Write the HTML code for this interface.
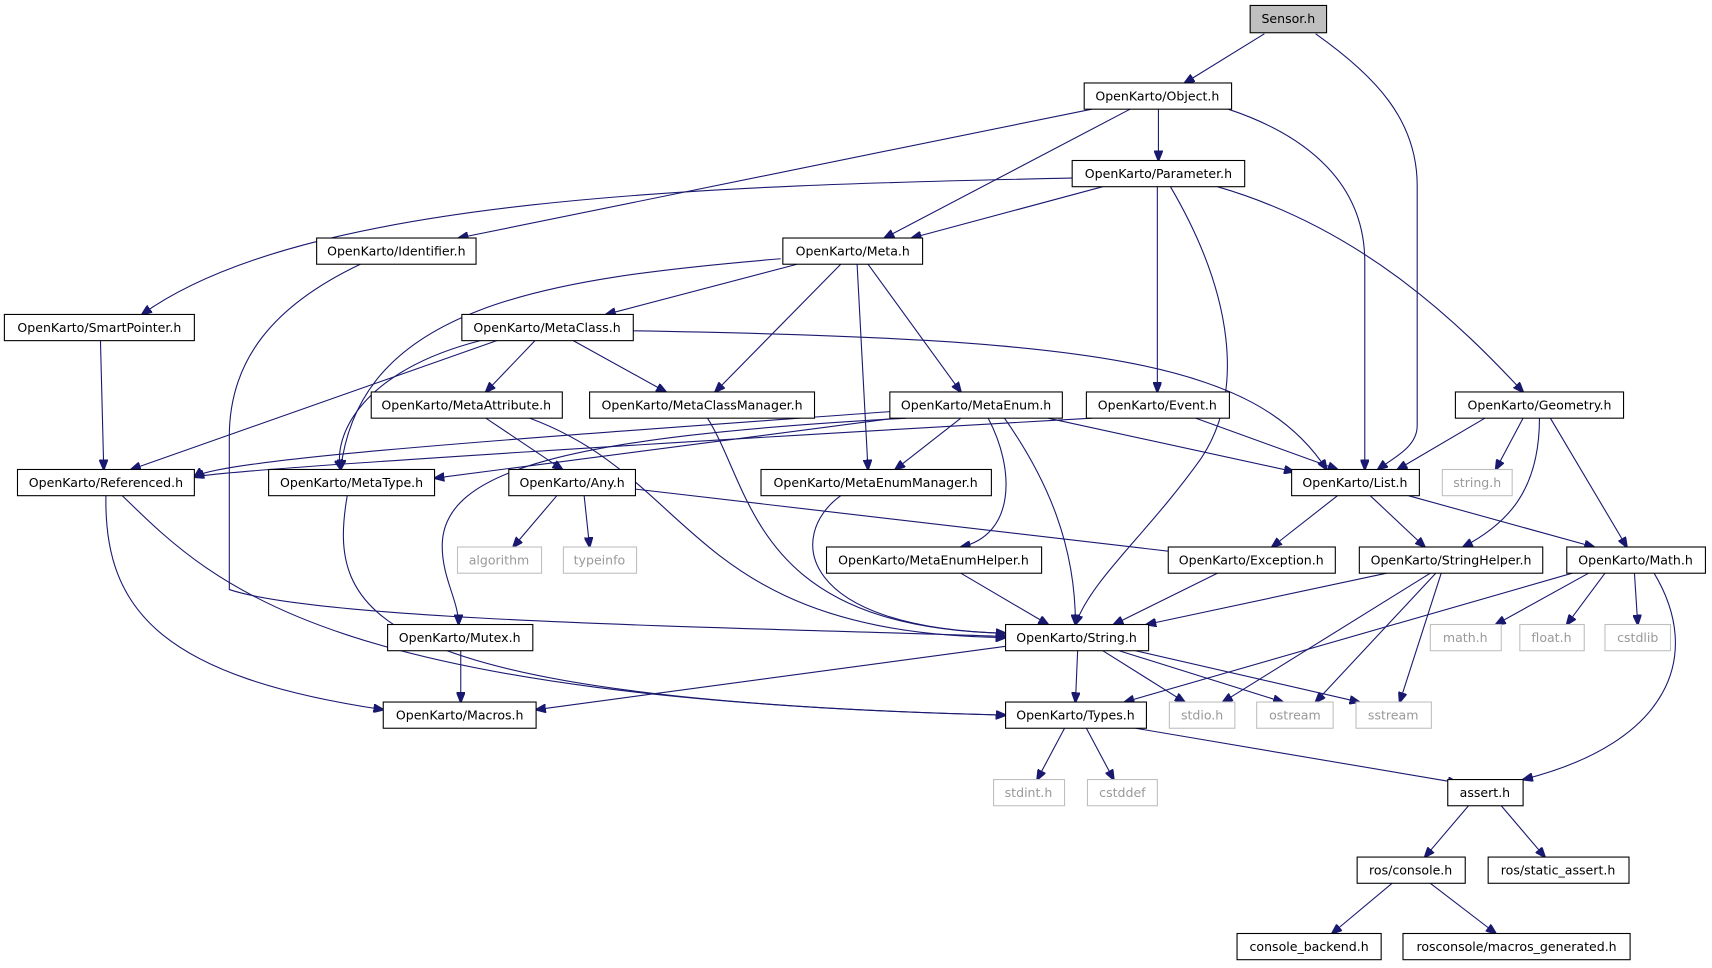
<!DOCTYPE html>
<html><head><meta charset="utf-8"><style>
html,body{margin:0;padding:0;background:#fff;width:1712px;height:968px;overflow:hidden}
svg{display:block}
text{font-family:"DejaVu Sans","Liberation Sans",sans-serif;font-size:11.5px;text-anchor:middle;dominant-baseline:central;fill:#000}
.g text{fill:#999}
rect{fill:#fff;stroke:#000;stroke-width:1}
.g rect{stroke:#bfbfbf}
path{fill:none;stroke:#191970;stroke-width:1}
</style></head><body>
<svg width="1712" height="968" viewBox="0 0 1568 886.6">
<defs><marker id="a" markerWidth="10" markerHeight="8" refX="9" refY="4" orient="auto" markerUnits="userSpaceOnUse"><path d="M0,0 L10,4 L0,8 Z" style="fill:#191970;stroke:#191970"/></marker></defs>
<g marker-end="url(#a)">
<path d="M1158,31 L1085,76"/>
<path d="M1205,31 C1260,70 1298,110 1298,170 L1298,390 C1298,410 1275,420 1262,430"/>
<path d="M1061,100 L1061,147"/>
<path d="M1035,100 L810,218"/>
<path d="M1000,100 L420,218"/>
<path d="M1125,100 C1200,125 1250,170 1250,240 L1250,430"/>
<path d="M985,163 C650,170 280,180 130,288"/>
<path d="M1010,171 L835,218"/>
<path d="M1060,171 L1060,359"/>
<path d="M1072,171 C1130,270 1140,360 1100,420 C1050,490 1000,530 985,572"/>
<path d="M1115,171 C1250,210 1340,300 1395,359"/>
<path d="M330,242 C250,280 210,330 210,400 L210,540 C300,570 700,575 921,583"/>
<path d="M730,242 L555,288"/>
<path d="M715,237 C500,255 330,280 312,430"/>
<path d="M770,242 L655,359"/>
<path d="M785,242 L795,430"/>
<path d="M795,242 L880,359"/>
<path d="M92,312 L95,430"/>
<path d="M455,312 L120,430"/>
<path d="M440,312 C330,340 305,400 312,430"/>
<path d="M490,312 L445,359"/>
<path d="M525,312 L610,359"/>
<path d="M580,303 C1000,310 1150,330 1215,430"/>
<path d="M445,383 L515,430"/>
<path d="M485,383 C640,440 630,580 921,584"/>
<path d="M648,383 C690,450 690,575 921,580"/>
<path d="M815,377 C500,400 200,420 178,437"/>
<path d="M820,383 L398,438"/>
<path d="M830,383 C520,400 405,430 405,500 C405,530 420,550 420,572"/>
<path d="M880,383 L820,430"/>
<path d="M905,383 C930,430 930,490 880,501"/>
<path d="M920,383 C960,440 985,500 985,572"/>
<path d="M960,383 L1185,432"/>
<path d="M1000,383 C700,400 200,430 178,437"/>
<path d="M1095,383 L1225,430"/>
<path d="M1360,383 L1280,430"/>
<path d="M1395,383 L1370,430"/>
<path d="M1410,383 C1410,450 1380,480 1340,501"/>
<path d="M1420,383 L1490,501"/>
<path d="M97,454 C95,560 150,620 351,650"/>
<path d="M112,454 C200,540 300,640 921,655"/>
<path d="M318,454 C300,560 330,640 921,655"/>
<path d="M510,454 L470,501"/>
<path d="M535,454 L540,501"/>
<path d="M582,448 L1080,506"/>
<path d="M770,454 C720,490 730,575 921,580"/>
<path d="M880,525 L960,572"/>
<path d="M1115,525 L1020,572"/>
<path d="M1225,454 L1165,501"/>
<path d="M1255,454 L1305,501"/>
<path d="M1290,454 L1460,501"/>
<path d="M1270,525 L1050,572"/>
<path d="M1310,525 L1120,643"/>
<path d="M1315,525 L1205,643"/>
<path d="M1320,525 L1282,643"/>
<path d="M1440,525 L1030,643"/>
<path d="M1455,525 L1370,572"/>
<path d="M1470,525 L1435,572"/>
<path d="M1497,525 L1500,572"/>
<path d="M1515,525 C1560,600 1530,680 1395,714"/>
<path d="M921,592 L491,650"/>
<path d="M987,596 L985,643"/>
<path d="M1010,596 L1085,643"/>
<path d="M1025,596 L1175,643"/>
<path d="M1040,596 L1245,643"/>
<path d="M422,596 L422,643"/>
<path d="M975,667 L950,714"/>
<path d="M995,667 L1020,714"/>
<path d="M1040,667 L1335,717"/>
<path d="M1345,738 L1305,785"/>
<path d="M1375,738 L1415,785"/>
<path d="M1275,809 L1220,855"/>
<path d="M1310,809 L1370,855"/>
</g>
<g>
<rect x="1145" y="5" width="70" height="25" style="fill:#bfbfbf"/><text x="1180" y="17">Sensor.h</text>
<rect x="993" y="76" width="135" height="24"/><text x="1060" y="88">OpenKarto/Object.h</text>
<rect x="982" y="147" width="158" height="24"/><text x="1061" y="159">OpenKarto/Parameter.h</text>
<rect x="290" y="218" width="146" height="24"/><text x="363" y="230">OpenKarto/Identifier.h</text>
<rect x="717" y="218" width="128" height="24"/><text x="781" y="230">OpenKarto/Meta.h</text>
<rect x="4" y="288" width="174" height="24"/><text x="91" y="300">OpenKarto/SmartPointer.h</text>
<rect x="423" y="288" width="157" height="24"/><text x="501" y="300">OpenKarto/MetaClass.h</text>
<rect x="340" y="359" width="175" height="24"/><text x="427" y="371">OpenKarto/MetaAttribute.h</text>
<rect x="540" y="359" width="206" height="24"/><text x="643" y="371">OpenKarto/MetaClassManager.h</text>
<rect x="815" y="359" width="158" height="24"/><text x="894" y="371">OpenKarto/MetaEnum.h</text>
<rect x="995" y="359" width="131" height="24"/><text x="1060" y="371">OpenKarto/Event.h</text>
<rect x="1333" y="359" width="154" height="24"/><text x="1410" y="371">OpenKarto/Geometry.h</text>
<rect x="16" y="430" width="162" height="24"/><text x="97" y="442">OpenKarto/Referenced.h</text>
<rect x="246" y="430" width="152" height="24"/><text x="322" y="442">OpenKarto/MetaType.h</text>
<rect x="466" y="430" width="116" height="24"/><text x="524" y="442">OpenKarto/Any.h</text>
<rect x="697" y="430" width="211" height="24"/><text x="802" y="442">OpenKarto/MetaEnumManager.h</text>
<rect x="1183" y="430" width="117" height="24"/><text x="1241" y="442">OpenKarto/List.h</text>
<rect x="757" y="501" width="197" height="24"/><text x="855" y="513">OpenKarto/MetaEnumHelper.h</text>
<rect x="1070" y="501" width="153" height="24"/><text x="1146" y="513">OpenKarto/Exception.h</text>
<rect x="1245" y="501" width="168" height="24"/><text x="1329" y="513">OpenKarto/StringHelper.h</text>
<rect x="1435" y="501" width="127" height="24"/><text x="1498" y="513">OpenKarto/Math.h</text>
<rect x="355" y="572" width="133" height="24"/><text x="421" y="584">OpenKarto/Mutex.h</text>
<rect x="921" y="572" width="131" height="24"/><text x="986" y="584">OpenKarto/String.h</text>
<rect x="351" y="643" width="140" height="24"/><text x="421" y="655">OpenKarto/Macros.h</text>
<rect x="921" y="643" width="129" height="24"/><text x="985" y="655">OpenKarto/Types.h</text>
<rect x="1326" y="714" width="69" height="24"/><text x="1360" y="726">assert.h</text>
<rect x="1243" y="785" width="99" height="24"/><text x="1292" y="797">ros/console.h</text>
<rect x="1363" y="785" width="129" height="24"/><text x="1427" y="797">ros/static_assert.h</text>
<rect x="1133" y="855" width="132" height="24"/><text x="1199" y="867">console_backend.h</text>
<rect x="1285" y="855" width="208" height="24"/><text x="1389" y="867">rosconsole/macros_generated.h</text>
</g>
<g class="g">
<rect x="1321" y="430" width="64" height="24"/><text x="1353" y="442">string.h</text>
<rect x="419" y="501" width="77" height="24"/><text x="457" y="513">algorithm</text>
<rect x="516" y="501" width="67" height="24"/><text x="549" y="513">typeinfo</text>
<rect x="1310" y="572" width="65" height="24"/><text x="1342" y="584">math.h</text>
<rect x="1392" y="572" width="59" height="24"/><text x="1421" y="584">float.h</text>
<rect x="1470" y="572" width="60" height="24"/><text x="1500" y="584">cstdlib</text>
<rect x="1071" y="643" width="60" height="24"/><text x="1101" y="655">stdio.h</text>
<rect x="1151" y="643" width="70" height="24"/><text x="1186" y="655">ostream</text>
<rect x="1242" y="643" width="69" height="24"/><text x="1276" y="655">sstream</text>
<rect x="910" y="714" width="65" height="24"/><text x="942" y="726">stdint.h</text>
<rect x="996" y="714" width="64" height="24"/><text x="1028" y="726">cstddef</text>
</g>
</svg>
</body></html>
